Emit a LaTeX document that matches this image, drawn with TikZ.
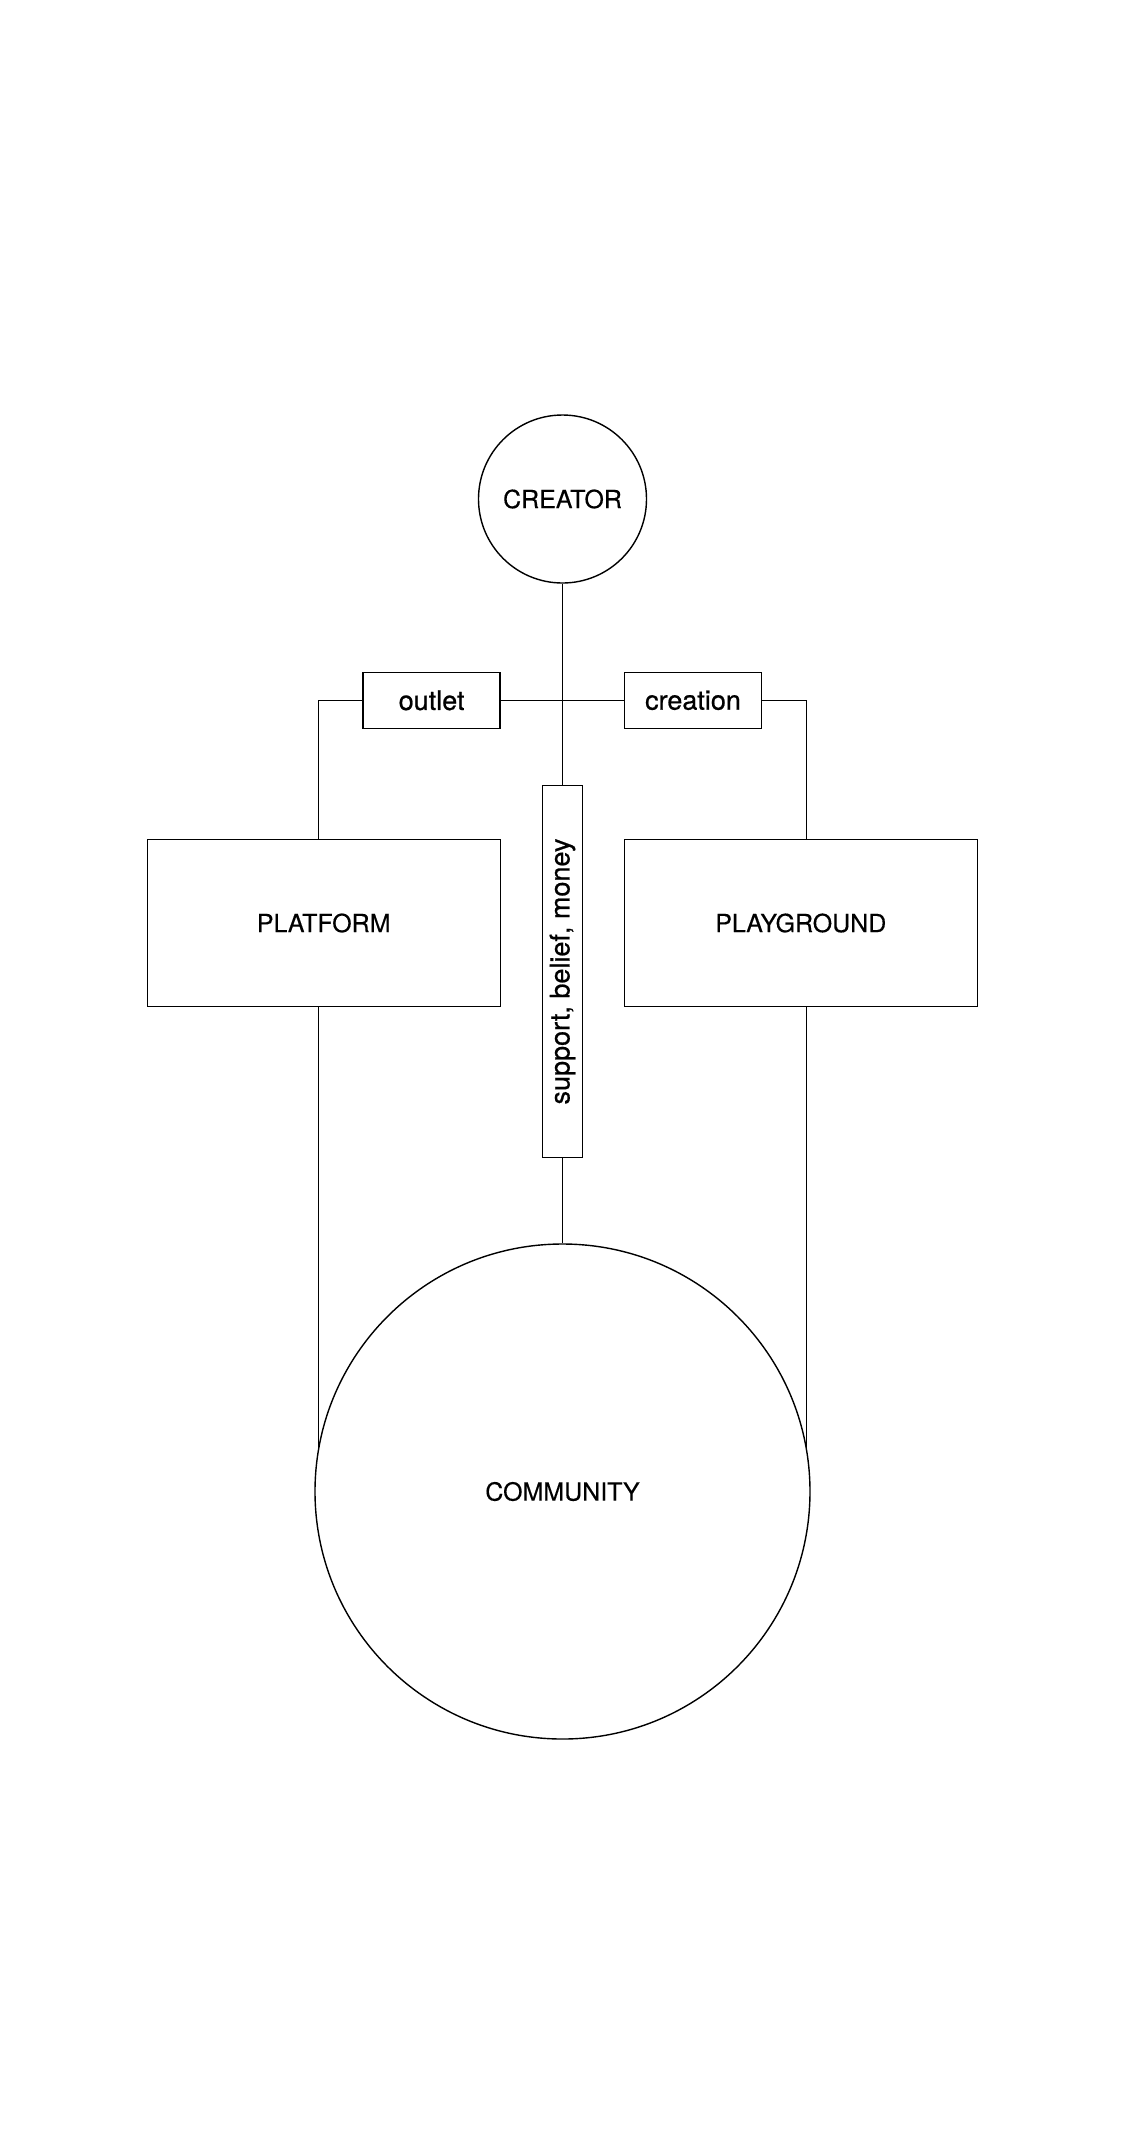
\documentclass[tikz,border=0pt]{standalone}
\usepackage{fontspec}
\setmainfont{TeX Gyre Heros}
\newfontfamily\capsfont[FakeBold=0.3]{TeX Gyre Heros}
\newfontfamily\wordfont[FakeBold=0.7]{TeX Gyre Heros}

\begin{document}
\begin{tikzpicture}[
    x=0.5pt, y=0.5pt,
    line width=0.7pt,
    inner sep=0pt, %boxes take their size from minimum width/height
    rnd/.style={circle,draw=black,
        font=\capsfont\fontsize{12.5}{15}\selectfont},
    bigbox/.style={rectangle,draw=black,minimum width=176.5pt,
        minimum height=83.7pt,font=\capsfont\fontsize{12.5}{15}\selectfont},
    tag/.style={rectangle,draw=black,minimum width=68.5pt,
        minimum height=28pt,font=\wordfont\fontsize{13.5}{16}\selectfont},
    ]
    \useasboundingbox (0,0) rectangle (1125,-2154);
    \node[rnd,minimum size=84pt] (creator) at (562.5,-499) {CREATOR};
    \node[tag] (outlet) at (431.6,-700.3) {outlet};
    \node[tag] (creation) at (693,-700.3) {creation};
    \node[bigbox] (platform) at (323.7,-923) {PLATFORM};
    \node[bigbox] (playground) at (800.8,-923) {PLAYGROUND};
    \node[tag,rotate=90,minimum width=185.8pt,minimum height=20.2pt]
        (money) at (562.5,-971.5) {support, belief, money};
    \node[rnd,minimum size=247.5pt] (community) at (562.5,-1491.5)
        {COMMUNITY};
    \coordinate (lcorner) at (318.7,-700.3);
    \coordinate (rcorner) at (806.3,-700.3);
    % middle line
    \draw (creator) -- (money);
    \draw (money) -- (community);
    \draw (outlet.east) -- (creation.west);
    % left side
    \draw (outlet.west) -- (lcorner) -- (lcorner |- platform.north);
    \draw (lcorner |- platform.south) -- (lcorner |- community.170);
    % right side
    \draw (creation.east) -- (rcorner) -- (rcorner |- playground.north);
    \draw (rcorner |- playground.south) -- (rcorner |- community.10);
\end{tikzpicture}
\end{document}
